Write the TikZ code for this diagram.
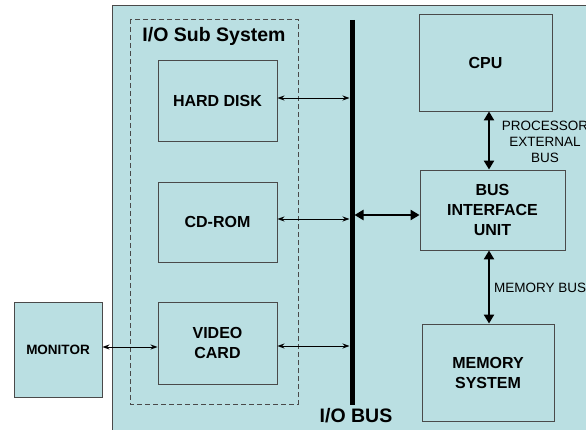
\documentclass[tikz,border=0pt]{standalone}
\usepackage{fontspec}
\setmainfont{Liberation Sans}
\usetikzlibrary{arrows.meta}
\definecolor{panel}{HTML}{BADFE2}
\definecolor{edge}{HTML}{4A4A4A}
\tikzset{
  unit/.style={draw=edge, line width=0.9pt, fill=panel, font=\fontsize{16}{20}\selectfont\bfseries, align=center, inner sep=0pt},
  thin arrow/.style={line width=0.9pt, {Stealth[length=7pt,width=5pt]}-{Stealth[length=7pt,width=5pt]}},
  thick arrow/.style={line width=2.6pt, {Triangle[length=9pt,width=10pt]}-{Triangle[length=9pt,width=10pt]}},
  buslabel/.style={font=\fontsize{13.5}{16}\selectfont, align=center, inner sep=0pt}
}
\begin{document}
\begin{tikzpicture}[x=1pt,y=-1pt]
\clip (0,0) rectangle (586,430);
\fill[white] (0,0) rectangle (586,430);
\draw[draw=edge, line width=1pt, fill=panel] (112,6) rectangle (600,440);
\draw[edge, line width=0.9pt, dashed, dash pattern=on 5pt off 3pt] (130,19) rectangle (298,404);
\node[font=\fontsize{19.5}{22}\selectfont\bfseries, inner sep=0pt] (iosub) at (214,36) {I/O Sub System};
\node[unit, minimum width=119, minimum height=81] (hd) at (217.5,100.5) {HARD DISK};
\node[unit, minimum width=119, minimum height=80] (cd) at (217.5,222) {CD-ROM};
\node[unit, minimum width=119, minimum height=82] (vc) at (217.5,343) {VIDEO\\CARD};
\node[unit, minimum width=88, minimum height=95, font=\fontsize{13.5}{16}\selectfont\bfseries] (mon) at (58,349.5) {MONITOR};
\node[unit, minimum width=133, minimum height=97] (cpu) at (485.5,62.5) {CPU};
\node[unit, minimum width=145, minimum height=80] (biu) at (492.5,210) {BUS\\INTERFACE\\UNIT};
\node[unit, minimum width=132, minimum height=97] (mem) at (488,372.5) {MEMORY\\SYSTEM};
% I/O bus
\coordinate (bustop) at (352,20);
\coordinate (busbot) at (352,405);
\draw[black, line width=5pt] (bustop) -- (busbot);
\node[font=\fontsize{19.5}{22}\selectfont\bfseries, inner sep=0pt] (iobus) at (356,416) {I/O BUS};
% connection points on the bus
\coordinate (hdbus) at (349.5,98);
\coordinate (cdbus) at (349.5,219);
\coordinate (vcbus) at (349.5,346);
\coordinate (biubus) at (354.5,215);
\draw[thin arrow] (hd.east |- hdbus) -- (hdbus);
\draw[thin arrow] (cd.east |- cdbus) -- (cdbus);
\draw[thin arrow] (vc.east |- vcbus) -- (vcbus);
\draw[thin arrow] (mon.east |- 0,347) -- (vc.west |- 0,347);
\draw[thick arrow] (biubus) -- (biu.west |- biubus);
\draw[thick arrow] (cpu.south -| 489,0) -- (biu.north -| 489,0);
\draw[thick arrow] (biu.south -| 489,0) -- (mem.north -| 489,0);
\node[buslabel] (pebl) at (545,142) {PROCESSOR\\EXTERNAL\\BUS};
\node[buslabel, anchor=west] (mbl) at (494,288) {MEMORY BUS};
\end{tikzpicture}
\end{document}
